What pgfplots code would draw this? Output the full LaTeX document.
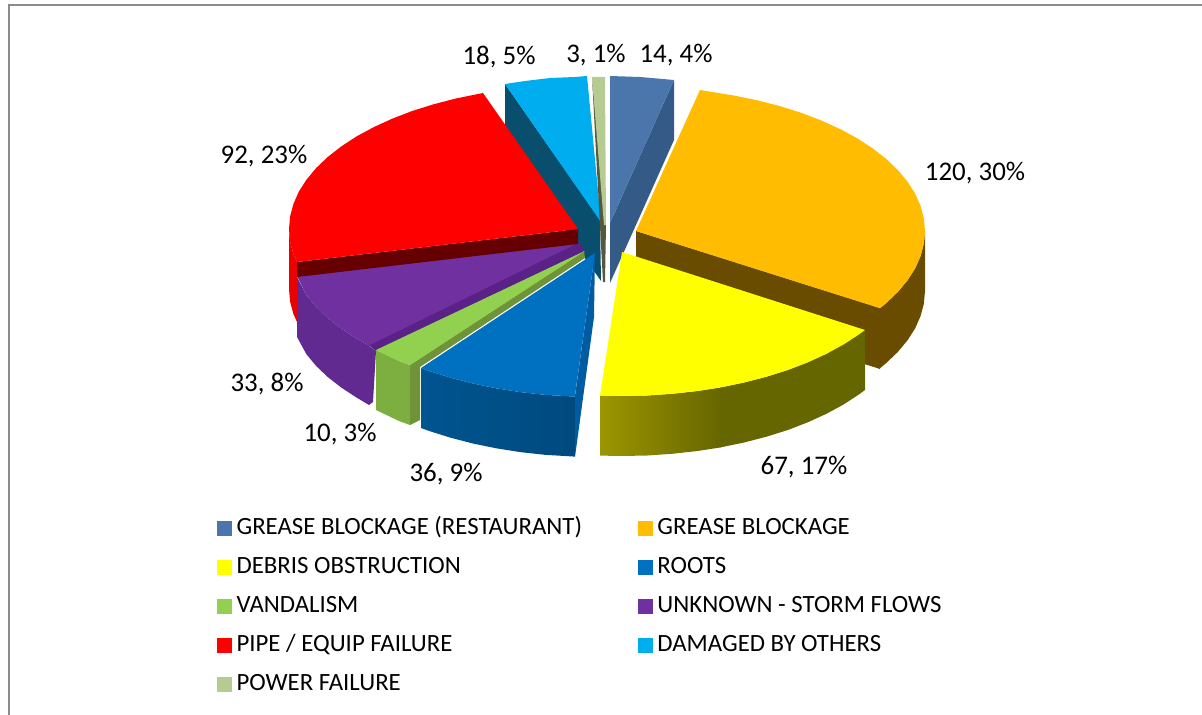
\documentclass[border=0pt]{standalone}
\usepackage{fontspec}
\setmainfont{Carlito}
\usepackage{pgfplots}
\pgfplotsset{compat=1.18}

% slice colours
\definecolor{gbr}{HTML}{4A76AC}
\definecolor{gbrd}{HTML}{345A88}
\definecolor{grease}{HTML}{FFBC00}
\definecolor{greased}{HTML}{694C00}
\definecolor{debris}{HTML}{FFFF00}
\definecolor{debrisa}{HTML}{9C9600}
\definecolor{debrisb}{HTML}{666600}
\definecolor{roots}{HTML}{0070C0}
\definecolor{rootsd}{HTML}{005CA0}
\definecolor{vand}{HTML}{92D050}
\definecolor{vandd}{HTML}{6F9438}
\definecolor{vandf}{HTML}{7CAE40}
\definecolor{storm}{HTML}{7030A0}
\definecolor{stormd}{HTML}{5A2286}
\definecolor{stormf}{HTML}{612A90}
\definecolor{pipe}{HTML}{FF0000}
\definecolor{piped}{HTML}{660000}
\definecolor{others}{HTML}{00ADEE}
\definecolor{othersd}{HTML}{0A4E6E}
\definecolor{power}{HTML}{B5CB92}
\definecolor{powerd}{HTML}{55573F}
\definecolor{framegray}{HTML}{8C8C8C}

\newcommand{\face}[2]{\addplot[forget plot, #1, draw=none] coordinates {#2};}

\begin{document}
\begin{tikzpicture}
\useasboundingbox (0bp,0bp) rectangle (1202bp,715bp);
\begin{axis}[
    scale only axis,
    width=1202bp, height=715bp,
    xmin=0, xmax=1202, ymin=0, ymax=715,
    y dir=reverse,
    axis lines=none,
    legend columns=2,
    legend cell align=left,
    legend image code/.code={\fill[#1] (0bp,-7bp) rectangle (14bp,7bp);},
    legend style={
        at={(axis cs:217,515)}, anchor=north west,
        draw=none, fill=none, inner sep=0pt,
        font=\fontsize{24.9}{24.9}\selectfont,
        nodes={inner sep=2bp, text height=17bp, text depth=5bp},
        row sep=13bp,
        /tikz/every odd column/.append style={column sep=3bp},
        /tikz/every even column/.append style={column sep=54bp},
    },
]
% legend swatches, in the order of the source table
\addlegendimage{gbr}\addlegendentry{GREASE BLOCKAGE (RESTAURANT)}
\addlegendimage{grease}\addlegendentry{GREASE BLOCKAGE}
\addlegendimage{debris}\addlegendentry{DEBRIS OBSTRUCTION}
\addlegendimage{roots}\addlegendentry{ROOTS}
\addlegendimage{vand}\addlegendentry{VANDALISM}
\addlegendimage{storm}\addlegendentry{UNKNOWN - STORM FLOWS}
\addlegendimage{pipe}\addlegendentry{PIPE / EQUIP FAILURE}
\addlegendimage{others}\addlegendentry{DAMAGED BY OTHERS}
\addlegendimage{power}\addlegendentry{POWER FAILURE}

% outer frame
\addplot[forget plot, framegray, line width=1.5bp] coordinates {(9,715) (9,5) (1202,5)};

% damaged by others, 18
\face{fill=othersd}{(505,84) (600,220) (601,281) (505,145)}
\face{fill=others}{(505,84) (525,81) (550,78) (575,77) (587,76) (601,222)}
% power failure, 3
\face{fill=powerd}{(592,77) (606,225) (605,282) (603,282)}
\face{fill=power}{(592,77) (605,77) (606,225) (604,225)}
% grease blockage (restaurant), 14
\face{fill=gbrd}{(674,80) (674,140) (610,283) (610,223)}
\face{fill=gbr}{(610,76) (640,77) (674,80) (610,223)}
% grease blockage, 120
\face{fill=greased}{(636,231) (880,308) (880,369) (636,291)}
\face{fill=greased}{(925,231) (923.9,243.5) (920.6,256) (915.2,268.3) (907.6,280.2) (897.9,291.9) (886.3,303) (880,308.2)
  (880,368.2) (886.3,363) (897.9,351.9) (907.6,340.2) (915.2,328.3) (920.6,316) (923.9,303.5) (925,291)}
\face{fill=grease}{(700,90) (734.8,95.7) (758.1,100.5) (780.5,106.3) (801.8,113) (821.8,120.7) (840.4,129.2) (857.4,138.4)
  (872.7,148.4) (886.3,159) (897.9,170.1) (907.6,181.8) (915.2,193.7) (920.6,206) (923.9,218.5) (925,231) (923.9,243.5)
  (920.6,256) (915.2,268.3) (907.6,280.2) (897.9,291.9) (886.3,303) (880,308.2) (636,231)}
% unknown - storm flows, 33
\face{fill=stormd}{(367,344) (578,241) (585,251) (376,351)}
\face{fill=stormf}{(369,346) (376,351) (373,402) (369,405)}
\face{fill=stormf}{(297,277) (306.4,295.2) (316.1,306.9) (327.7,318) (341.3,328.6) (356.6,338.6) (369,345.5)
  (369,405) (356.6,397.6) (341.3,387.6) (327.7,377) (316.1,365.9) (306.4,354.2) (297,337)}
\face{fill=storm}{(578,243) (297,276) (306.4,295.2) (316.1,306.9) (327.7,318) (341.3,328.6) (356.6,338.6) (369,345.5)}
% pipe / equip failure, 92
\face{fill=pipe!92!black}{(289,229) (290.1,241.6) (293.4,254) (297,262) (297,322) (293.4,314) (290.1,301.6) (289,289)}
\face{fill=piped}{(297,262) (578,229) (578,244) (297,277)}
\face{fill=pipe}{(483,93) (455.9,98.5) (433.5,104.3) (412.2,111) (392.2,118.7) (373.6,127.2) (356.6,136.4) (341.3,146.4)
  (327.7,157) (316.1,168.1) (306.4,179.8) (298.8,191.7) (293.4,204) (290.1,216.4) (289,229) (290.1,241.6) (293.4,254) (297,262) (578,229)}
% vandalism, 10
\face{fill=vandd}{(410,365) (584,251) (585,258) (420,367) (420,420) (410,425)}
\face{fill=vandf}{(376,350) (399,361) (410,365) (410,425) (399,421) (376,410)}
\face{fill=vand}{(376,350) (399,361) (410,365) (585,251)}
% roots, 36
\face{fill=rootsd}{(595,253) (594,317) (575,457) (575,396)}
\addplot[forget plot, draw=none, left color=roots!75!black, right color=roots!66!black] coordinates {
  (421,368) (429.2,371) (450.5,377.7) (472.9,383.5) (496.2,388.3) (520.2,392.1) (544.8,394.8) (574.8,396.6)
  (574.8,456.6) (544.8,454.8) (520.2,452.1) (496.2,448.3) (472.9,443.5) (450.5,437.7) (429.2,431) (421,428)};
\face{fill=roots}{(595,253) (421,368) (429.2,371) (450.5,377.7) (472.9,383.5) (496.2,388.3) (520.2,392.1) (544.8,394.8) (574.8,396.6)}
% debris obstruction, 67
\addplot[forget plot, draw=none, left color=debrisa, right color=debrisb] coordinates {
  (720.8,387.4) (696.8,391.1) (672.2,393.8) (647.2,395.5) (622,396) (600,395.6)
  (600,455.6) (622,456) (647.2,455.5) (672.2,453.8) (696.8,451.1) (720.8,447.4)};
\face{fill=debrisb}{(865,330) (858.7,334.6) (843.4,344.6) (826.4,353.8) (807.8,362.3) (787.8,370) (766.5,376.7) (744.1,382.5) (720,387.5)
  (720,447.5) (744.1,442.5) (766.5,436.7) (787.8,430) (807.8,422.3) (826.4,413.8) (843.4,404.6) (858.7,394.6) (865,390)}
\face{fill=debris}{(622,252) (865,330) (858.7,334.6) (843.4,344.6) (826.4,353.8) (807.8,362.3) (787.8,370) (766.5,376.7)
  (744.1,382.5) (720.8,387.4) (696.8,391.1) (672.2,393.8) (647.2,395.5) (622,396) (600,395.6)}

% data labels: value, share
\begin{scope}[every node/.style={font=\fontsize{27}{27}\selectfont, inner sep=0pt}]
\node at (axis cs:499,57) {18, 5\%};
\node at (axis cs:596,55) {3, 1\%};
\node at (axis cs:676,55) {14, 4\%};
\node at (axis cs:975,173) {120, 30\%};
\node at (axis cs:804,467) {67, 17\%};
\node at (axis cs:446,474) {36, 9\%};
\node at (axis cs:340,434) {10, 3\%};
\node at (axis cs:267,384) {33, 8\%};
\node at (axis cs:264,156) {92, 23\%};
\end{scope}
\end{axis}
\end{tikzpicture}
\end{document}
